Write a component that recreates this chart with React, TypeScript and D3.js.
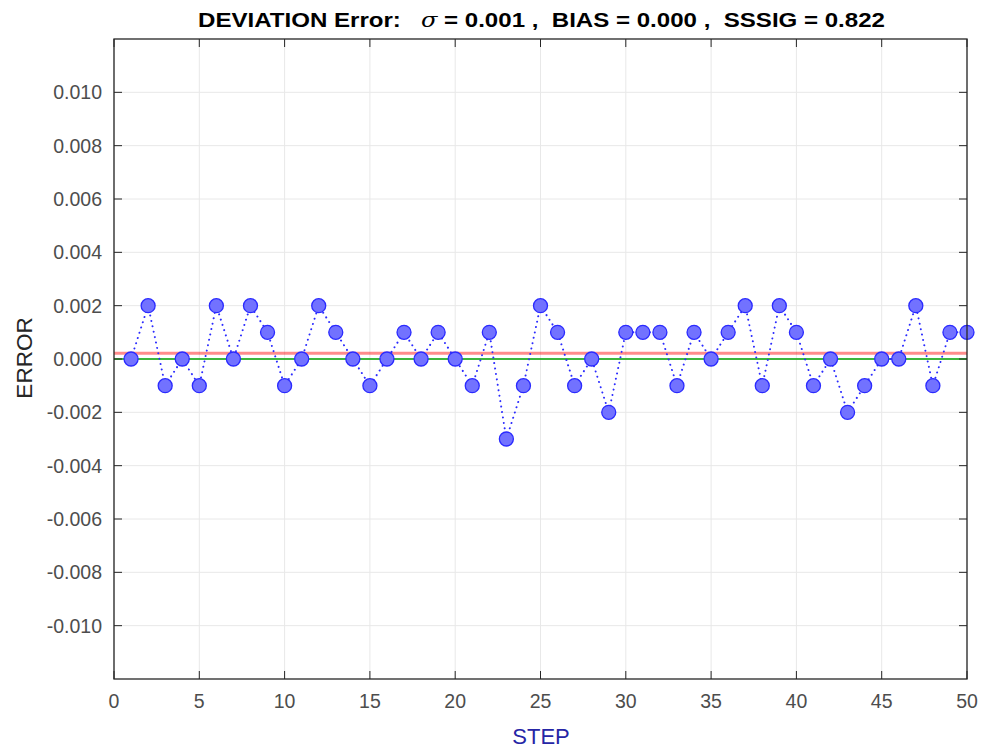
import React from "react";
import * as d3 from "d3";

const steps: number[] = Array.from({ length: 50 }, (_, i) => i + 1);
const errors: number[] = [
  0, 0.002, -0.001, 0, -0.001, 0.002, 0, 0.002, 0.001, -0.001,
  0, 0.002, 0.001, 0, -0.001, 0, 0.001, 0, 0.001, 0,
  -0.001, 0.001, -0.003, -0.001, 0.002, 0.001, -0.001, 0, -0.002, 0.001,
  0.001, 0.001, -0.001, 0.001, 0, 0.001, 0.002, -0.001, 0.002, 0.001,
  -0.001, 0, -0.002, -0.001, 0, 0, 0.002, -0.001, 0.001, 0.001,
];
const xTicks: number[] = [0, 5, 10, 15, 20, 25, 30, 35, 40, 45, 50];
const yTicks: number[] = [-0.01, -0.008, -0.006, -0.004, -0.002, 0, 0.002, 0.004, 0.006, 0.008, 0.01];
const biasLine = d3.mean(errors) as number;
const zeroLine = 0;

export default function App() {
  const W = 985, H = 752;
  const L = 114, R = 967, T = 39, B = 679;
  const x = d3.scaleLinear().domain([0, 50]).range([L, R]);
  const y = d3.scaleLinear().domain([-0.012, 0.012]).range([B, T]);
  const line = d3.line<number>().x((_, i) => x(steps[i])).y((d) => y(d));
  const font = "Liberation Sans, Arial, Helvetica, sans-serif";
  const tickCol = "#4d4d4d";
  return (
    <svg width={W} height={H} style={{ position: "absolute", left: 0, top: 0, background: "#fff" }} fontFamily={font}>
      <rect x={0} y={0} width={W} height={H} fill="#fff" />
      {xTicks.map((t) => (
        <line key={"gx" + t} x1={x(t)} x2={x(t)} y1={T} y2={B} stroke="#e8e8e8" strokeWidth={1} />
      ))}
      {yTicks.map((t) => (
        <line key={"gy" + t} x1={L} x2={R} y1={y(t)} y2={y(t)} stroke="#e8e8e8" strokeWidth={1} />
      ))}
      <line x1={L} x2={R} y1={y(biasLine)} y2={y(biasLine)} stroke="#ff0000" strokeOpacity={0.45} strokeWidth={3} />
      <line x1={L} x2={R} y1={y(zeroLine)} y2={y(zeroLine)} stroke="#00a000" strokeWidth={1.5} />
      <path d={line(errors) || ""} fill="none" stroke="#2b2bff" strokeWidth={2} strokeDasharray="0.01 5.5" strokeLinecap="round" />
      {errors.map((v, i) => (
        <circle key={i} cx={x(steps[i])} cy={y(v)} r={7} fill="#7272ff" stroke="#2a2aff" strokeWidth={1.3} />
      ))}
      <rect x={L} y={T} width={R - L} height={B - T} fill="none" stroke="#262626" strokeWidth={1.3} />
      {xTicks.map((t) => (
        <g key={"tx" + t}>
          <line x1={x(t)} x2={x(t)} y1={B} y2={B - 8} stroke="#262626" />
          <line x1={x(t)} x2={x(t)} y1={T} y2={T + 8} stroke="#262626" />
          <text x={x(t)} y={B + 29} textAnchor="middle" fontSize={19.5} fill={tickCol}>{t}</text>
        </g>
      ))}
      {yTicks.map((t) => (
        <g key={"ty" + t}>
          <line x1={L} x2={L + 8} y1={y(t)} y2={y(t)} stroke="#262626" />
          <line x1={R} x2={R - 8} y1={y(t)} y2={y(t)} stroke="#262626" />
          <text x={L - 12} y={y(t) + 7} textAnchor="end" fontSize={19.5} fill={tickCol}>{d3.format(".3f")(t).replace("−", "-")}</text>
        </g>
      ))}
      <text x={541} y={744} textAnchor="middle" fontSize={22} fill="#2626a6">STEP</text>
      <text transform={`translate(32, 358) rotate(-90)`} textAnchor="middle" fontSize={22.5} fill="#262626">ERROR</text>
      <text x={198} y={27} fontSize={20} fontWeight="bold" fill="#000" xmlSpace="preserve" textLength={687} lengthAdjust="spacingAndGlyphs">
        <tspan>DEVIATION Error:{"\u00a0\u00a0\u00a0"}</tspan>
        <tspan fontStyle="italic" fontWeight="normal" fontFamily="DejaVu Serif, serif">σ</tspan>
        <tspan>{" = 0.001 ,\u00a0\u00a0BIAS = 0.000 ,\u00a0\u00a0SSSIG = 0.822"}</tspan>
      </text>
    </svg>
  );
}
